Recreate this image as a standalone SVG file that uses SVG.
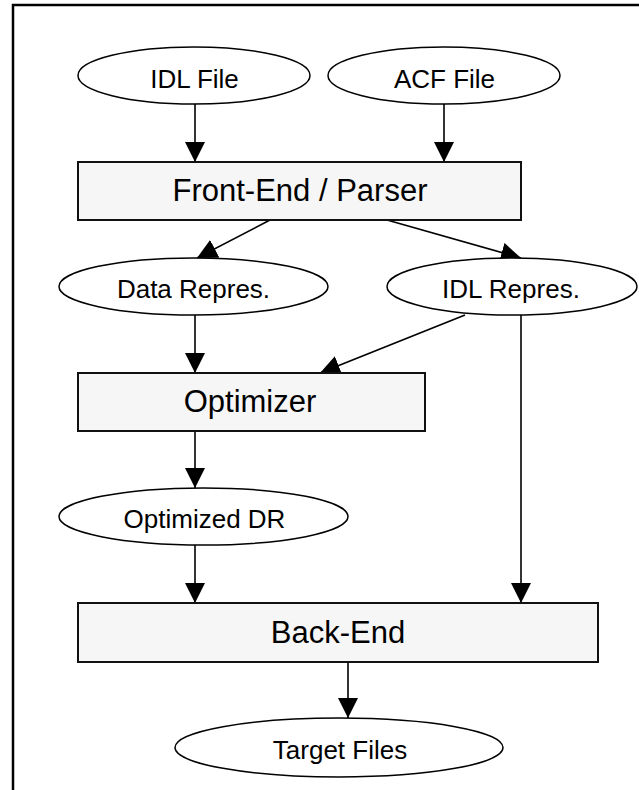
<svg xmlns="http://www.w3.org/2000/svg" width="639" height="790" viewBox="0 0 639 790">
<style>
.frame{fill:none;stroke:#000;stroke-width:2.5}
.ell{fill:#fff;stroke:#000;stroke-width:1.5}
.box{fill:#f6f6f6;stroke:#111;stroke-width:2}
.t{font-family:"Liberation Sans",Arial,sans-serif;text-anchor:middle;fill:#000}
.s{font-size:26px}
.b{font-size:31px}
.c{fill:none;stroke:#000;stroke-width:1.6}
</style>
<defs>
<marker id="ah" markerUnits="userSpaceOnUse" markerWidth="20" markerHeight="20" viewBox="0 0 20 20" refX="20" refY="10" orient="auto">
<path d="M0,0 L20,10 L0,20 Z" fill="#000"/>
</marker>
</defs>
<rect class="frame" x="13" y="5" width="640" height="800"/>
<g id="connectors">
<line class="c" x1="195" y1="104" x2="195" y2="162" marker-end="url(#ah)"/>
<line class="c" x1="444" y1="104" x2="444" y2="162" marker-end="url(#ah)"/>
<line class="c" x1="270" y1="220" x2="197" y2="258" marker-end="url(#ah)"/>
<line class="c" x1="387" y1="220" x2="521" y2="258" marker-end="url(#ah)"/>
<line class="c" x1="195" y1="315" x2="195" y2="373" marker-end="url(#ah)"/>
<line class="c" x1="465" y1="315" x2="320" y2="373" marker-end="url(#ah)"/>
<line class="c" x1="195" y1="431" x2="195" y2="488" marker-end="url(#ah)"/>
<line class="c" x1="195" y1="545" x2="195" y2="603" marker-end="url(#ah)"/>
<line class="c" x1="521" y1="315" x2="521" y2="603" marker-end="url(#ah)"/>
<line class="c" x1="348" y1="662" x2="348" y2="718" marker-end="url(#ah)"/>
</g>
<g id="idl-file">
<ellipse class="ell" cx="194" cy="75.5" rx="116" ry="28.5"/>
<text class="t s" x="194.5" y="88">IDL File</text>
</g>
<g id="acf-file">
<ellipse class="ell" cx="444" cy="75.5" rx="116" ry="28.5"/>
<text class="t s" x="444.5" y="88">ACF File</text>
</g>
<g id="front-end">
<rect class="box" x="78" y="162" width="443" height="58"/>
<text class="t b" x="300" y="201">Front-End / Parser</text>
</g>
<g id="data-repres">
<ellipse class="ell" cx="193.5" cy="286.5" rx="134.5" ry="28.5"/>
<text class="t s" x="193.5" y="298">Data Repres.</text>
</g>
<g id="idl-repres">
<ellipse class="ell" cx="512" cy="286.5" rx="125" ry="28.5"/>
<text class="t s" x="511" y="298">IDL Repres.</text>
</g>
<g id="optimizer">
<rect class="box" x="78" y="373" width="347" height="58"/>
<text class="t b" x="250" y="412">Optimizer</text>
</g>
<g id="optimized-dr">
<ellipse class="ell" cx="203.5" cy="516.5" rx="144.5" ry="28.5"/>
<text class="t s" x="204.5" y="528">Optimized DR</text>
</g>
<g id="back-end">
<rect class="box" x="78" y="603" width="520" height="59"/>
<text class="t b" x="338" y="643">Back-End</text>
</g>
<g id="target-files">
<ellipse class="ell" cx="339" cy="747.5" rx="164" ry="29.5"/>
<text class="t s" x="340" y="759">Target Files</text>
</g>
</svg>
